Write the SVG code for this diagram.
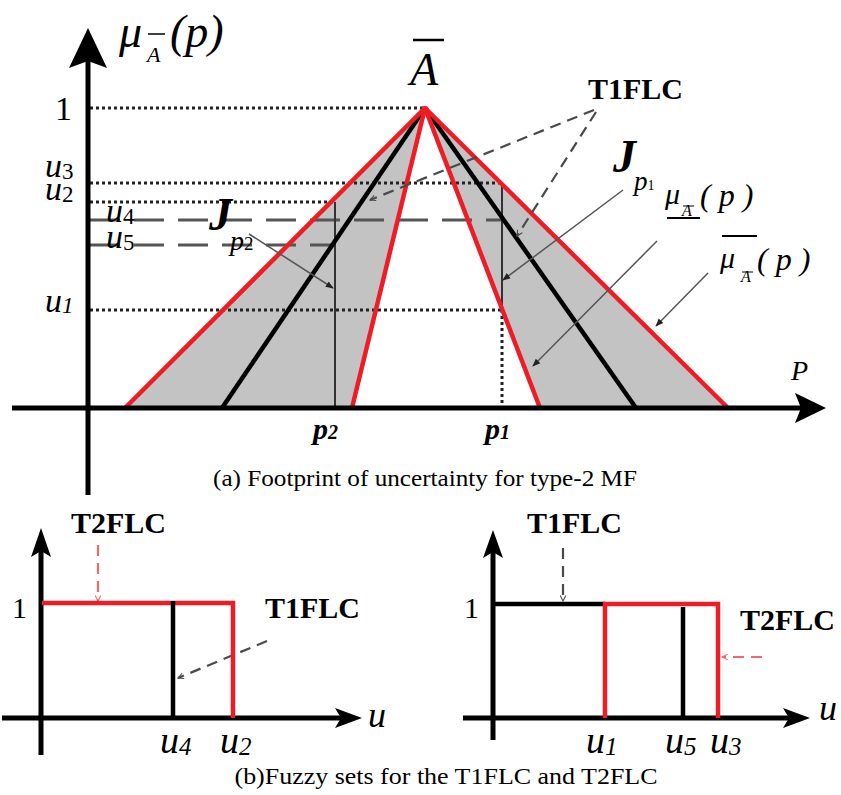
<svg xmlns="http://www.w3.org/2000/svg" width="841" height="795" viewBox="0 0 841 795">
<style>
.ax{stroke:#000;stroke-width:5;fill:none}
.ah{fill:#000}
.red{stroke:#ee1c24;stroke-width:4.5;fill:none}
.blk{stroke:#000;stroke-width:4.5;fill:none}
.dot{stroke:#222;stroke-width:3;stroke-dasharray:3 3;fill:none}
.dash{stroke:#555;stroke-width:3;stroke-dasharray:30 14;fill:none}
.vl{stroke:#333;stroke-width:2;fill:none}
.gd{stroke:#4a4a4a;stroke-width:2.2;stroke-dasharray:11 7;fill:none}
.rd{stroke:#f06a6a;stroke-width:2.2;stroke-dasharray:11 7;fill:none}
.ga{stroke:#555;stroke-width:1.5;fill:none}
.t{font-family:"Liberation Serif","Times New Roman",serif;fill:#000}
.i{font-style:italic}
.b{font-weight:bold}
</style>
<defs>
<marker id="ch" viewBox="0 0 10 10" refX="9" refY="5" markerWidth="7" markerHeight="7" markerUnits="userSpaceOnUse" orient="auto">
<path d="M1,1 L9,5 L1,9" fill="none" stroke="#4a4a4a" stroke-width="1.5"/>
</marker>
<marker id="chr" viewBox="0 0 10 10" refX="9" refY="5" markerWidth="7" markerHeight="7" markerUnits="userSpaceOnUse" orient="auto">
<path d="M1,1 L9,5 L1,9" fill="none" stroke="#f06a6a" stroke-width="1.5"/>
</marker>
<marker id="tri" viewBox="0 0 10 10" refX="9" refY="5" markerWidth="8" markerHeight="8" markerUnits="userSpaceOnUse" orient="auto">
<path d="M0,1 L10,5 L0,9 Z" fill="#222"/>
</marker>
</defs>

<!-- Panel (a) -->
<g id="fou">
<polygon points="125,408 425,108 352,408" fill="#c3c3c3"/>
<polygon points="540,408 425,108 728,408" fill="#c3c3c3"/>
</g>
<g id="guides">
<line class="dot" x1="90" y1="108" x2="425" y2="108"/>
<line class="dot" x1="90" y1="183" x2="502" y2="183"/>
<line class="dot" x1="90" y1="202" x2="335" y2="202"/>
<line class="dash" x1="90" y1="220" x2="502" y2="220"/>
<line class="dash" x1="90" y1="245" x2="335" y2="245"/>
<line class="dot" x1="90" y1="310" x2="502" y2="310"/>
<line class="vl" x1="335" y1="202" x2="335" y2="408"/>
<line class="vl" x1="502" y1="183" x2="502" y2="310"/>
<line class="dot" x1="502" y1="310" x2="502" y2="408"/>
</g>
<g id="mf-lines">
<line class="blk" x1="222" y1="408" x2="425" y2="108"/>
<line class="blk" x1="425" y1="108" x2="636" y2="408"/>
<line class="red" x1="352" y1="408" x2="425" y2="108"/>
<line class="red" x1="425" y1="108" x2="540" y2="408"/>
<line class="red" x1="125" y1="408" x2="425" y2="108"/>
<line class="red" x1="425" y1="108" x2="728" y2="408"/>
<circle cx="425" cy="110" r="4" fill="#ee1c24"/>
</g>
<g id="axes-a">
<line class="ax" x1="88" y1="60" x2="88" y2="495"/>
<polygon class="ah" points="88,28 107,68 88,61 69,68"/>
<line class="ax" x1="12" y1="408" x2="805" y2="408"/>
<polygon class="ah" points="826,408 795,393 801,408 795,423"/>
</g>
<g id="connectors">
<line class="gd" x1="594" y1="110" x2="370" y2="200" marker-end="url(#ch)"/>
<line class="gd" x1="596" y1="112" x2="517" y2="236" marker-end="url(#ch)"/>
<line class="ga" x1="623" y1="190" x2="503" y2="280" marker-end="url(#tri)"/>
<line class="ga" x1="657" y1="241" x2="533" y2="366" marker-end="url(#tri)"/>
<line class="ga" x1="708" y1="273" x2="656" y2="326" marker-end="url(#tri)"/>
<line class="ga" x1="249" y1="234" x2="333" y2="288" marker-end="url(#tri)"/>
<line class="rd" x1="98" y1="545" x2="98" y2="601" marker-end="url(#chr)"/>
<line class="gd" x1="267" y1="641" x2="178" y2="678" marker-end="url(#ch)"/>
<line class="gd" x1="563" y1="548" x2="563" y2="601" marker-end="url(#ch)"/>
<line class="rd" x1="762" y1="657" x2="722" y2="657" marker-end="url(#chr)"/>
</g>
<g id="labels-a">
<text class="t i" x="119" y="47" font-size="46">μ</text>
<text class="t i" x="147" y="62" font-size="22">A</text>
<line x1="148" y1="34" x2="165" y2="34" stroke="#000" stroke-width="1.5"/>
<text class="t i" x="170" y="47" font-size="46">(p)</text>
<text class="t i" x="410" y="85" font-size="46">A</text>
<line x1="413" y1="40" x2="444" y2="40" stroke="#000" stroke-width="2.5"/>
<text class="t" x="55" y="120" font-size="34">1</text>
<text class="t i" x="45" y="177" font-size="34">u<tspan font-size="23" font-style="normal" dy="2">3</tspan></text>
<text class="t i" x="45" y="200" font-size="34">u<tspan font-size="23" font-style="normal" dy="2">2</tspan></text>
<text class="t i" x="106" y="222" font-size="34">u<tspan font-size="23" font-style="normal" dy="2">4</tspan></text>
<text class="t i" x="106" y="248" font-size="34">u<tspan font-size="23" font-style="normal" dy="2">5</tspan></text>
<text class="t i" x="45" y="312" font-size="34">u<tspan font-size="23" dy="1">1</tspan></text>
<text class="t b i" x="209" y="230" font-size="46">J</text>
<text class="t i" x="230" y="250" font-size="28">p<tspan font-size="19" font-style="normal">2</tspan></text>
<text class="t b" x="588" y="99" font-size="30">T1FLC</text>
<text class="t b i" x="613" y="172" font-size="46">J</text>
<text class="t i" x="634" y="190" font-size="27">p<tspan font-size="14" font-style="normal">1</tspan></text>
<text class="t i" x="665" y="204" font-size="30">μ</text>
<text class="t i" x="682" y="216" font-size="16">A</text>
<line x1="683" y1="206" x2="694" y2="206" stroke="#000" stroke-width="1"/>
<line x1="667" y1="218" x2="700" y2="218" stroke="#000" stroke-width="2"/>
<text class="t i" x="700" y="206" font-size="32">( p )</text>
<line x1="722" y1="236" x2="757" y2="236" stroke="#000" stroke-width="2"/>
<text class="t i" x="720" y="268" font-size="30">μ</text>
<text class="t i" x="741" y="282" font-size="16">A</text>
<line x1="742" y1="272" x2="753" y2="272" stroke="#000" stroke-width="1"/>
<text class="t i" x="757" y="270" font-size="32">( p )</text>
<text class="t i" x="791" y="380" font-size="28">P</text>
<text class="t b i" x="313" y="439" font-size="30">p<tspan font-size="20">2</tspan></text>
<text class="t b i" x="485" y="439" font-size="30">p<tspan font-size="20">1</tspan></text>
<text class="t" x="425" y="486" font-size="23" text-anchor="middle" textLength="424" lengthAdjust="spacingAndGlyphs">(a) Footprint of uncertainty for type-2 MF</text>
</g>

<!-- Panel (b) left -->
<g id="panel-b-left">
<line class="ax" x1="41" y1="548" x2="41" y2="755"/>
<polygon class="ah" points="41,528 51,557 41,551 31,557"/>
<line class="ax" x1="2" y1="718" x2="345" y2="718"/>
<polygon class="ah" points="362,718 335,708 341,718 335,728"/>
<polyline class="red" points="42,603 233,603 233,718"/>
<line class="blk" x1="173" y1="601" x2="173" y2="718"/>
<text class="t" x="12" y="618" font-size="30">1</text>
<text class="t b" x="71" y="533" font-size="30">T2FLC</text>
<text class="t b" x="265" y="618" font-size="30">T1FLC</text>
<text class="t i" x="160" y="753" font-size="38">u<tspan font-size="25" dy="2">4</tspan></text>
<text class="t i" x="220" y="753" font-size="38">u<tspan font-size="25" dy="2">2</tspan></text>
<text class="t i" x="368" y="727" font-size="36">u</text>
</g>

<!-- Panel (b) right -->
<g id="panel-b-right">
<line class="ax" x1="493" y1="548" x2="493" y2="740"/>
<polygon class="ah" points="493,530 503,558 493,552 483,558"/>
<line class="ax" x1="463" y1="718" x2="792" y2="718"/>
<polygon class="ah" points="810,718 783,708 789,718 783,728"/>
<line class="blk" x1="493" y1="604" x2="605" y2="604"/>
<polyline class="red" points="605,718 605,604 718,604 718,718"/>
<line class="blk" x1="683" y1="607" x2="683" y2="718"/>
<text class="t" x="464" y="618" font-size="30">1</text>
<text class="t b" x="527" y="533" font-size="30">T1FLC</text>
<text class="t b" x="740" y="630" font-size="30">T2FLC</text>
<text class="t i" x="586" y="753" font-size="38">u<tspan font-size="25" dy="2">1</tspan></text>
<text class="t i" x="665" y="753" font-size="38">u<tspan font-size="25" dy="2">5</tspan></text>
<text class="t i" x="710" y="753" font-size="38">u<tspan font-size="25" dy="2">3</tspan></text>
<text class="t i" x="819" y="720" font-size="36">u</text>
<text class="t" x="446" y="784" font-size="23" text-anchor="middle" textLength="423" lengthAdjust="spacingAndGlyphs">(b)Fuzzy sets for the T1FLC and T2FLC</text>
</g>
</svg>
